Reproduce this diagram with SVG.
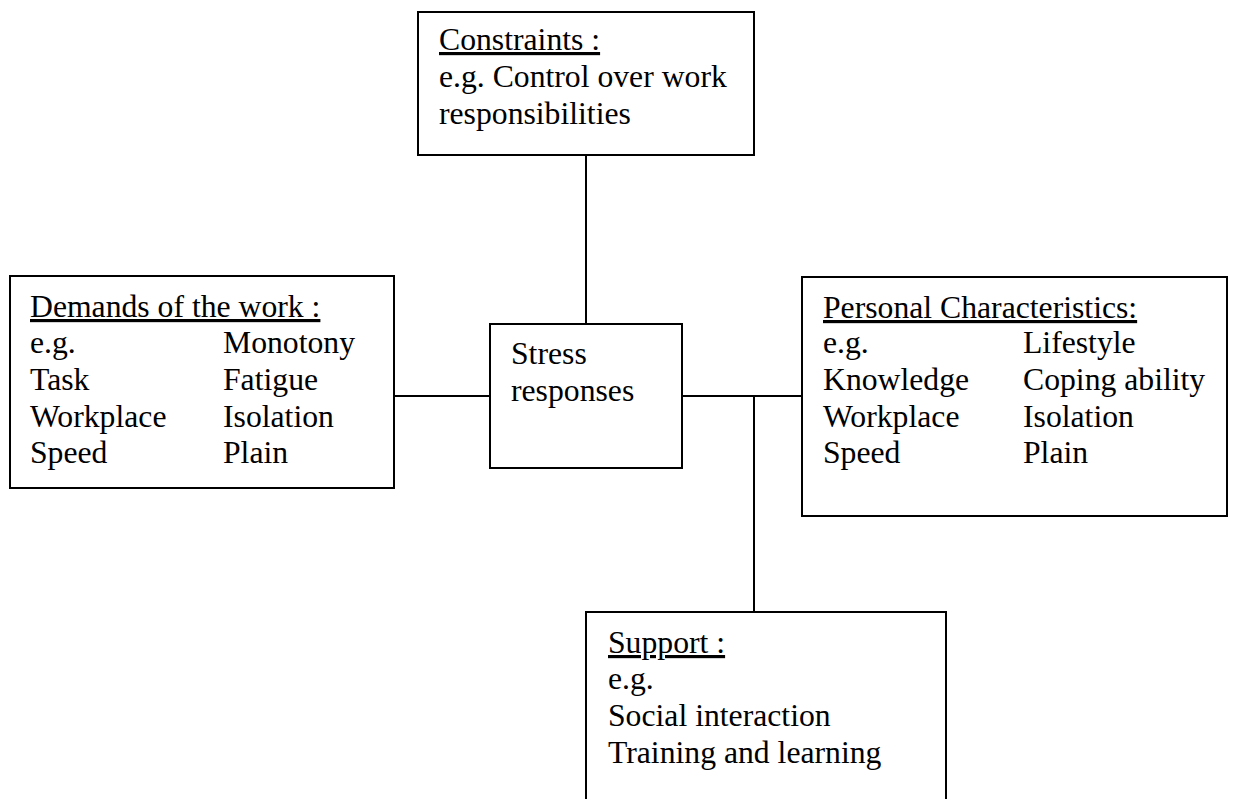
<svg xmlns="http://www.w3.org/2000/svg" width="1237" height="799" viewBox="0 0 1237 799">
<style>
.box{fill:#fff;stroke:#000;stroke-width:2}
.ln{stroke:#000;stroke-width:2;fill:none}
text{font-family:"Liberation Serif","Times New Roman",serif;font-size:31.7px;fill:#000}
.h{text-decoration:underline}
</style>
<rect width="1237" height="799" fill="#fff"/>
<g id="connectors">
<line class="ln" x1="586" y1="155" x2="586" y2="324"/>
<line class="ln" x1="394" y1="396" x2="490" y2="396"/>
<line class="ln" x1="682" y1="396" x2="802" y2="396"/>
<line class="ln" x1="754" y1="396" x2="754" y2="612"/>
</g>
<g id="constraints">
<rect class="box" x="418" y="12" width="336" height="143"/>
<text x="439" y="50" class="h">Constraints :</text>
<text x="439" y="87">e.g. Control over work</text>
<text x="439" y="124">responsibilities</text>
</g>
<g id="demands">
<rect class="box" x="10" y="276" width="384" height="212"/>
<text x="30" y="317" class="h">Demands of the work :</text>
<text x="30" y="353">e.g.</text>
<text x="30" y="390">Task</text>
<text x="30" y="427">Workplace</text>
<text x="30" y="463">Speed</text>
<text x="223" y="353">Monotony</text>
<text x="223" y="390">Fatigue</text>
<text x="223" y="427">Isolation</text>
<text x="223" y="463">Plain</text>
</g>
<g id="stress">
<rect class="box" x="490" y="324" width="192" height="144"/>
<text x="511" y="364">Stress</text>
<text x="511" y="401">responses</text>
</g>
<g id="personal">
<rect class="box" x="802" y="277" width="425" height="239"/>
<text x="823" y="318" class="h">Personal Characteristics:</text>
<text x="823" y="353">e.g.</text>
<text x="823" y="390">Knowledge</text>
<text x="823" y="427">Workplace</text>
<text x="823" y="463">Speed</text>
<text x="1023" y="353">Lifestyle</text>
<text x="1023" y="390">Coping ability</text>
<text x="1023" y="427">Isolation</text>
<text x="1023" y="463">Plain</text>
</g>
<g id="support">
<rect class="box" x="586" y="612" width="360" height="200"/>
<text x="608" y="653" class="h">Support :</text>
<text x="608" y="689">e.g.</text>
<text x="608" y="726">Social interaction</text>
<text x="608" y="763">Training and learning</text>
</g>
</svg>
